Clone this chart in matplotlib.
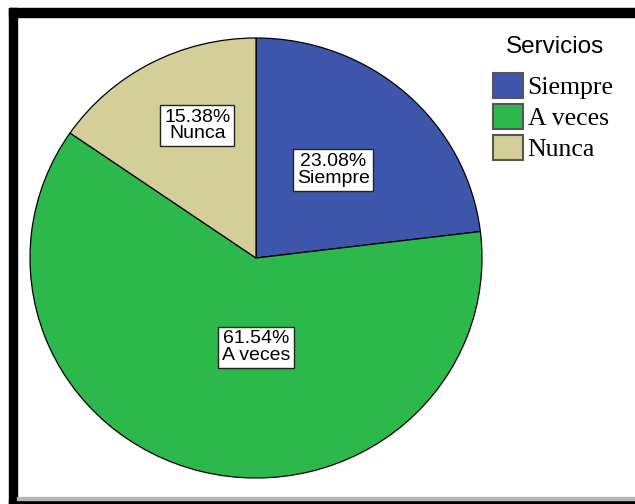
import matplotlib.pyplot as plt
from matplotlib.patches import Rectangle, Patch

categories = ['Siempre', 'A veces', 'Nunca']
percentages = [23.08, 61.54, 15.38]
colors = ['#3d56ab', '#2db84c', '#d4cf99']
# label centres in pie units (radius = 1)
label_pos = [(0.341, 0.400), (0.0, -0.405), (-0.259, 0.602)]

fig = plt.figure(figsize=(6.35, 5.04), dpi=100)
W, H = 635, 504

# pie area
ax = fig.add_axes([30 / W, 26 / H, 452 / W, 440 / H])
ax.pie(percentages, colors=colors, startangle=90, counterclock=False,
       radius=1.0, wedgeprops=dict(edgecolor='black', linewidth=0.9))
ax.set_aspect('auto')
ax.set_xlim(-1, 1)
ax.set_ylim(-1, 1)
ax.axis('off')

for cat, pct, (x, y) in zip(categories, percentages, label_pos):
    ax.text(x, y, f'{pct:.2f}%\n{cat}', ha='center', va='center',
            fontsize=14, family='Liberation Sans', linespacing=0.95,
            bbox=dict(boxstyle='square,pad=0.2', facecolor='white',
                      edgecolor='#222222', linewidth=1.0))

# legend, title drawn separately so its gap can be set
fig.text(555 / W, 1 - 47 / H, 'Servicios', ha='center', va='center',
         fontsize=17.5, family='Liberation Sans')
handles = [Patch(facecolor=c, edgecolor='#555555', linewidth=1.5) for c in colors]
leg = fig.legend(handles, categories, loc='upper left',
                 bbox_to_anchor=(493 / W, 1 - 73 / H), frameon=False,
                 handlelength=1.15, handleheight=1.1, borderpad=0,
                 handletextpad=0.2, labelspacing=0.2, borderaxespad=0,
                 prop=dict(family='Liberation Serif', size=18.5))

# frame bars around the chart
fig.patches.append(Rectangle((9 / W, 1 - 17 / H), 1, 9 / H, color='black',
                             transform=fig.transFigure, zorder=5))
fig.patches.append(Rectangle((9 / W, 0), 8 / W, 1 - 8 / H, color='black',
                             transform=fig.transFigure, zorder=5))
fig.patches.append(Rectangle((9 / W, 0), 1, 4 / H, color='black',
                             transform=fig.transFigure, zorder=5))
fig.patches.append(Rectangle((17 / W, 4 / H), 1, 3 / H, color='#b4b4b4',
                             transform=fig.transFigure, zorder=5))

fig.savefig('out.png', dpi=100)
